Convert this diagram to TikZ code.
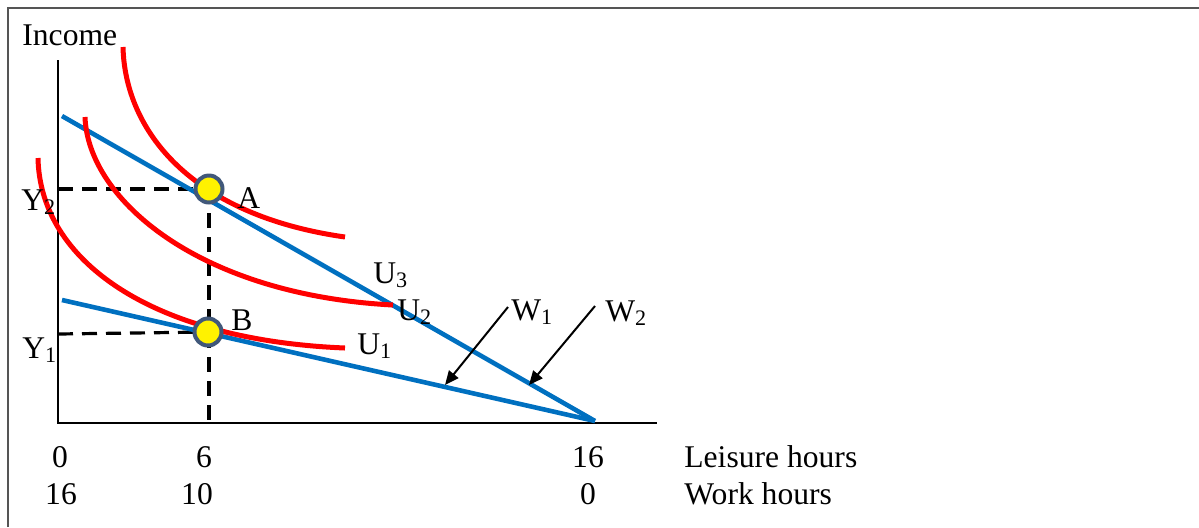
\documentclass[tikz,border=0pt]{standalone}
\usepackage{fontspec}
\setmainfont{Liberation Serif}
\usetikzlibrary{arrows.meta}
\definecolor{wblue}{HTML}{0070C0}
\definecolor{ured}{HTML}{FF0000}
\definecolor{dotedge}{HTML}{41587A}
\definecolor{framegray}{HTML}{555555}
\tikzset{
  lbl/.style={inner sep=0pt, anchor=base west, font=\fontsize{15.8}{18}\selectfont},
  num/.style={inner sep=0pt, anchor=base, font=\fontsize{15.8}{18}\selectfont},
  wage/.style={wblue, line width=2.3pt},
  indiff/.style={ured, line width=2.5pt},
  guide/.style={black, line width=1.6pt, dash pattern=on 7.5pt off 4.5pt},
  axisline/.style={black, line width=1pt},
  dotpt/.style={circle, fill=yellow, draw=dotedge, line width=2pt, minimum size=13.5pt, inner sep=0pt},
  ptr/.style={black, line width=1pt, -{Triangle[length=7pt,width=6pt]}}
}
\begin{document}
\begin{tikzpicture}[x=0.5pt,y=-0.5pt]
\useasboundingbox (0,0) rectangle (1199,527);
% frame
\draw[framegray, line width=1pt] (8,527) -- (8,7.5) -- (1199,7.5);
% axes
\coordinate (O) at (58,423);
\coordinate (ytop) at (58,60);
\coordinate (xend) at (657,423);
\draw[axisline] (ytop) -- (O) -- (xend);
% key points
\coordinate (Apt) at (209,189);
\coordinate (Bpt) at (208,332);
\coordinate (Y2ax) at (58,189);
\coordinate (Y1ax) at (58,334);
\coordinate (six) at (209,423);
% dashed guides
\draw[guide] (Y2ax) -- (Apt);
\draw[guide] (Apt) -- (six);
\draw[guide] (Y1ax) -- (Bpt);
% wage lines
\coordinate (W2top) at (62,116);
\coordinate (W1top) at (62,300);
\coordinate (Tend) at (595,421);
\draw[wage] (W2top) -- (Tend);
\draw[wage] (W1top) -- (Tend);
% indifference curves
\draw[indiff] (123,47) .. controls (125,130) and (190,215) .. (345,237);
\draw[indiff] (85,117) .. controls (88,200) and (200,295) .. (393,305);
\draw[indiff] (38,158) .. controls (40,260) and (150,340) .. (345,348);
% tangency dots
\node[dotpt] (dotA) at (Apt) {};
\node[dotpt] (dotB) at (Bpt) {};
% labels
\node[lbl] (income) at (22,45) {Income};
\node[lbl] (y2) at (21,210) {Y\textsubscript{2}};
\node[lbl] (y1) at (22,358) {Y\textsubscript{1}};
\node[lbl] (la) at (237,208) {A};
\node[lbl] (lb) at (231,330) {B};
\node[lbl] (u3) at (373,283) {U\textsubscript{3}};
\node[lbl] (u2) at (397,320) {U\textsubscript{2}};
\node[lbl] (u1) at (357,354) {U\textsubscript{1}};
\node[lbl] (w1) at (511,320) {W\textsubscript{1}};
\node[lbl] (w2) at (605,321) {W\textsubscript{2}};
% pointers
\coordinate (w1s) at (508,307);
\coordinate (w1e) at (445,385);
\coordinate (w2s) at (595,306);
\coordinate (w2e) at (529,385);
\draw[ptr] (w1s) -- (w1e);
\draw[ptr] (w2s) -- (w2e);
% axis numbers
\node[num] (l0) at (60,467) {0};
\node[num] (l6) at (204,467) {6};
\node[num] (l16) at (588,467) {16};
\node[lbl] (leis) at (684,467) {Leisure hours};
\node[num] (w16) at (61,504) {16};
\node[num] (w10) at (197,504) {10};
\node[num] (w0) at (588,504) {0};
\node[lbl] (work) at (684,504) {Work hours};
\end{tikzpicture}
\end{document}
